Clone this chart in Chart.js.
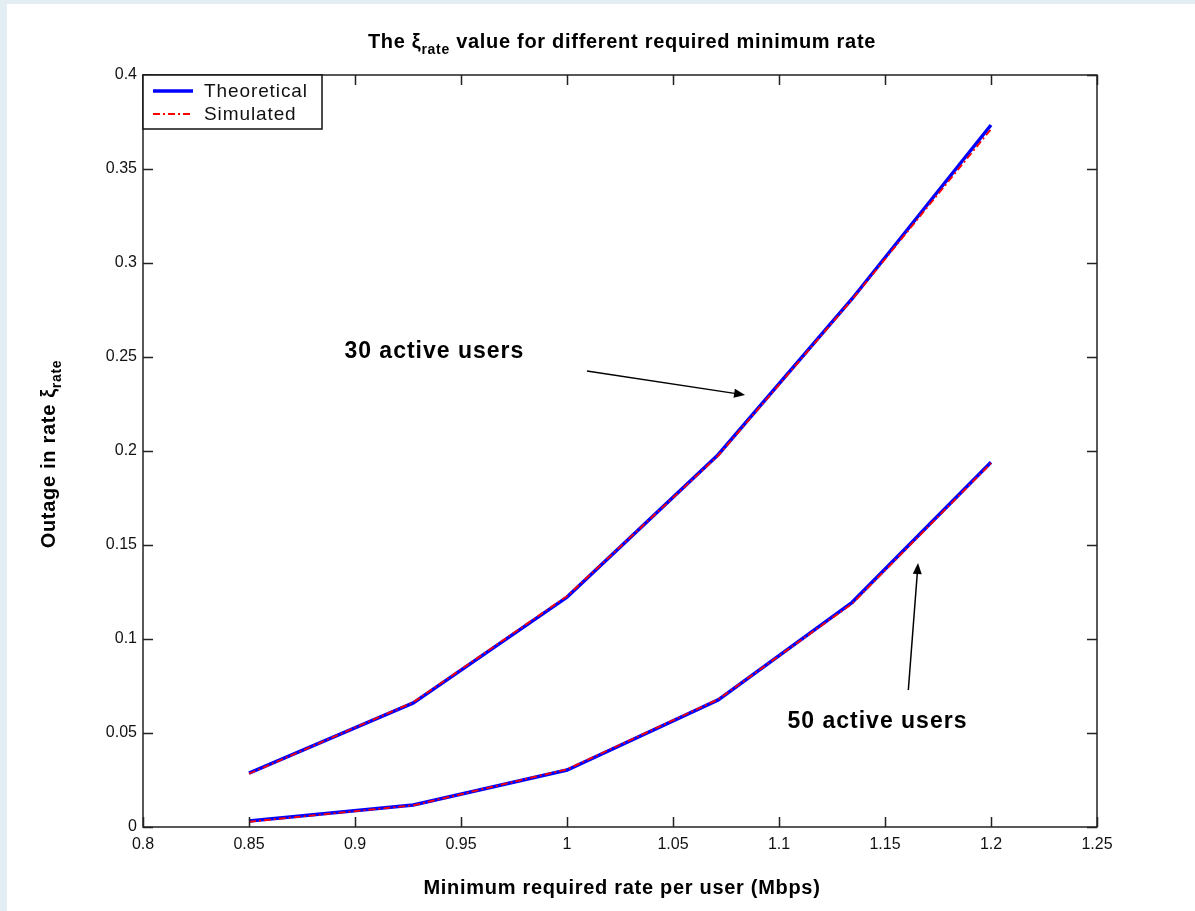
<!DOCTYPE html>
<html>
<head>
<meta charset="utf-8">
<script src="https://cdn.jsdelivr.net/npm/chart.js@4.4.1/dist/chart.umd.min.js"></script>
<style>
  body { margin: 0; background: #e2eef4; }
  #frame { position: absolute; left: 7px; top: 4px; width: 1188px; height: 907px; background: #fff; }
  canvas { display: block; }
</style>
</head>
<body>
<div id="frame"><canvas id="chart" width="1188" height="907"></canvas></div>
<script>
// data
const rates = [0.85, 0.9275, 1.0, 1.0713, 1.1345, 1.2];
const theory30 = [0.0287, 0.066, 0.1223, 0.198, 0.281, 0.3734];
const sim30 = [0.0283, 0.0664, 0.1228, 0.1975, 0.2806, 0.3712];
const theory50 = [0.0032, 0.0117, 0.0303, 0.0676, 0.1195, 0.194];
const sim50 = [0.0028, 0.0115, 0.0307, 0.0679, 0.1188, 0.1935];
const xTicks = [0.8, 0.85, 0.9, 0.95, 1, 1.05, 1.1, 1.15, 1.2, 1.25];
const yTicks = [0, 0.05, 0.1, 0.15, 0.2, 0.25, 0.3, 0.35, 0.4];

// annotations in data units
const noteText = ['30 active users', '50 active users'];
const noteAt = [[0.895, 0.2527], [1.104, 0.0559]];
const arrowFrom = [[1.0094, 0.2426], [1.161, 0.0729]];
const arrowTo = [[1.084, 0.2298], [1.1656, 0.1404]];

const FONT = '"Liberation Sans", Arial, sans-serif';
const pts = ys => rates.map((x, i) => ({ x, y: ys[i] }));

// lower order is drawn on top, so the simulated dash-dot sits over the blue line
const theoStyle = { borderColor: '#0000ff', borderWidth: 3.5, pointRadius: 0, tension: 0, order: 2 };
const simStyle = { borderColor: '#ff0000', borderWidth: 1.8, borderDash: [7, 3, 2, 3], pointRadius: 0, tension: 0, order: 1 };

// draw a string made of normal and subscript parts, centred on x
function drawRich(ctx, parts, x, y, size, weight, spacing) {
  const fontOf = p => `${weight} ${p.sub ? Math.round(size * 0.72) : size}px ${FONT}`;
  ctx.letterSpacing = `${spacing}px`;
  let w = 0;
  parts.forEach(p => { ctx.font = fontOf(p); w += ctx.measureText(p.t).width; });
  let cx = x - w / 2;
  ctx.textAlign = 'left';
  ctx.textBaseline = 'alphabetic';
  parts.forEach(p => {
    ctx.font = fontOf(p);
    ctx.fillText(p.t, cx, p.sub ? y + size * 0.3 : y);
    cx += ctx.measureText(p.t).width;
  });
  ctx.letterSpacing = '0px';
}

const decor = {
  id: 'decor',
  afterDraw(chart) {
    const { ctx, chartArea: a, scales: { x, y } } = chart;
    ctx.save();
    ctx.fillStyle = '#000';
    ctx.strokeStyle = '#222';

    // box and inward ticks
    ctx.lineWidth = 1.5;
    ctx.strokeRect(a.left, a.top, a.right - a.left, a.bottom - a.top);
    ctx.beginPath();
    xTicks.forEach(v => {
      const px = Math.round(x.getPixelForValue(v)) + 0.5;
      ctx.moveTo(px, a.bottom); ctx.lineTo(px, a.bottom - 10);
      ctx.moveTo(px, a.top); ctx.lineTo(px, a.top + 10);
    });
    yTicks.forEach(v => {
      const py = Math.round(y.getPixelForValue(v)) + 0.5;
      ctx.moveTo(a.left, py); ctx.lineTo(a.left + 10, py);
      ctx.moveTo(a.right, py); ctx.lineTo(a.right - 10, py);
    });
    ctx.stroke();

    // title and axis labels
    const mid = (a.left + a.right) / 2 + 2;
    drawRich(ctx, [{ t: 'The ' }, { t: 'ξ' }, { t: 'rate', sub: true }, { t: ' value for different required minimum rate' }], mid, 44, 20, 'bold', 0.7);
    drawRich(ctx, [{ t: 'Minimum required rate per user (Mbps)' }], mid, 890, 20, 'bold', 0.7);
    ctx.save();
    ctx.translate(48, 450);
    ctx.rotate(-Math.PI / 2);
    drawRich(ctx, [{ t: 'Outage in rate ' }, { t: 'ξ' }, { t: 'rate', sub: true }], 0, 0, 20, 'bold', 0.7);
    ctx.restore();

    // annotations with arrows
    ctx.font = `bold 23px ${FONT}`;
    ctx.letterSpacing = '1px';
    ctx.textAlign = 'left';
    ctx.textBaseline = 'middle';
    noteText.forEach((t, i) => {
      ctx.fillText(t, x.getPixelForValue(noteAt[i][0]), y.getPixelForValue(noteAt[i][1]));
      const x0 = x.getPixelForValue(arrowFrom[i][0]), y0 = y.getPixelForValue(arrowFrom[i][1]);
      const x1 = x.getPixelForValue(arrowTo[i][0]), y1 = y.getPixelForValue(arrowTo[i][1]);
      const ang = Math.atan2(y1 - y0, x1 - x0);
      ctx.strokeStyle = '#000';
      ctx.lineWidth = 1.5;
      ctx.beginPath();
      ctx.moveTo(x0, y0);
      ctx.lineTo(x1 - 9 * Math.cos(ang), y1 - 9 * Math.sin(ang));
      ctx.stroke();
      ctx.beginPath();
      ctx.moveTo(x1, y1);
      ctx.lineTo(x1 - 11 * Math.cos(ang) + 4.5 * Math.sin(ang), y1 - 11 * Math.sin(ang) - 4.5 * Math.cos(ang));
      ctx.lineTo(x1 - 11 * Math.cos(ang) - 4.5 * Math.sin(ang), y1 - 11 * Math.sin(ang) + 4.5 * Math.cos(ang));
      ctx.closePath();
      ctx.fill();
    });
    ctx.letterSpacing = '0px';

    // legend box, top-left inside the axes
    const lx = a.left, ly = a.top, lw = 179, lh = 54;
    ctx.fillStyle = '#fff';
    ctx.fillRect(lx, ly, lw, lh);
    ctx.strokeStyle = '#111';
    ctx.lineWidth = 1.5;
    ctx.strokeRect(lx, ly, lw, lh);
    const sets = chart.data.datasets.slice(0, 2);
    sets.forEach((ds, i) => {
      const yy = ly + 16 + i * 23;
      ctx.strokeStyle = ds.borderColor;
      ctx.lineWidth = ds.borderWidth;
      ctx.setLineDash(ds.borderDash || []);
      ctx.beginPath();
      ctx.moveTo(lx + 10, yy);
      ctx.lineTo(lx + 50, yy);
      ctx.stroke();
      ctx.setLineDash([]);
      ctx.fillStyle = '#111';
      ctx.font = `19px ${FONT}`;
      ctx.letterSpacing = '0.9px';
      ctx.textBaseline = 'middle';
      ctx.fillText(ds.label, lx + 61, yy + 1);
      ctx.letterSpacing = '0px';
    });
    ctx.restore();
  }
};

const fmt = v => String(Number(v.toFixed(2)));

new Chart(document.getElementById('chart'), {
  type: 'line',
  data: {
    datasets: [
      { label: 'Theoretical', data: pts(theory30), ...theoStyle },
      { label: 'Simulated', data: pts(sim30), ...simStyle },
      { label: 'Theoretical', data: pts(theory50), ...theoStyle },
      { label: 'Simulated', data: pts(sim50), ...simStyle }
    ]
  },
  options: {
    responsive: false,
    animation: false,
    layout: { padding: { top: 71, right: 98, left: 0, bottom: 0 } },
    plugins: { legend: { display: false }, title: { display: false }, tooltip: { enabled: false } },
    scales: {
      x: {
        type: 'linear', min: 0.8, max: 1.25,
        afterBuildTicks: s => { s.ticks = xTicks.map(value => ({ value })); },
        afterFit: s => { s.height = 84; },
        grid: { display: false, drawTicks: false },
        border: { display: false },
        ticks: { padding: 8, color: '#111', font: { family: FONT, size: 16 }, callback: fmt, maxRotation: 0 }
      },
      y: {
        min: 0, max: 0.4,
        afterBuildTicks: s => { s.ticks = yTicks.map(value => ({ value })); },
        afterFit: s => { s.width = 136; },
        grid: { display: false, drawTicks: false },
        border: { display: false },
        ticks: { padding: 6, color: '#111', font: { family: FONT, size: 16 }, callback: fmt }
      }
    }
  },
  plugins: [decor]
});
</script>
</body>
</html>
